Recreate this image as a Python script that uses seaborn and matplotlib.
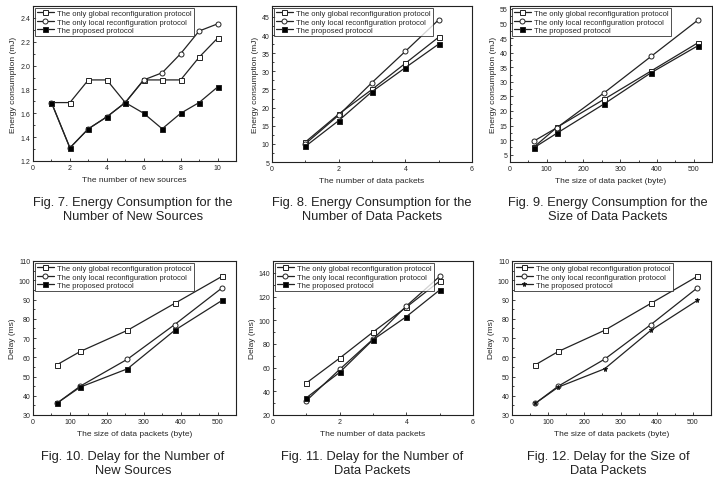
import matplotlib
matplotlib.use("Agg")
import matplotlib.pyplot as plt
from matplotlib.ticker import AutoMinorLocator, MultipleLocator
import seaborn as sns
import pandas as pd

# Fig. 7 - energy vs number of new sources
new_sources = [1, 2, 3, 4, 5, 6, 7, 8, 9, 10]
e7_global = [1.69, 1.69, 1.88, 1.88, 1.69, 1.88, 1.88, 1.88, 2.07, 2.23]
e7_local = [1.69, 1.31, 1.47, 1.57, 1.69, 1.88, 1.94, 2.10, 2.29, 2.35]
e7_proposed = [1.69, 1.31, 1.47, 1.57, 1.69, 1.60, 1.47, 1.60, 1.69, 1.82]

# Fig. 8 - energy vs number of data packets
packets = [1, 2, 3, 4, 5]
e8_global = [10.5, 18.2, 25.0, 32.2, 39.4]
e8_local = [10.0, 17.9, 26.9, 35.5, 44.2]
e8_proposed = [9.3, 16.4, 24.4, 31.0, 37.5]

# Fig. 9 - energy vs packet size
sizes = [64, 128, 256, 384, 512]
e9_global = [7.5, 14.4, 24.0, 33.7, 43.4]
e9_local = [9.6, 14.3, 26.2, 38.7, 51.2]
e9_proposed = [7.3, 12.4, 22.4, 33.1, 42.4]

# Fig. 10 / 12 - delay vs packet size
d10_global = [56, 63, 74, 88, 102]
d10_local = [36, 45, 59, 77, 96]
d10_proposed = [36, 44.5, 54, 74, 89.5]

# Fig. 11 - delay vs number of data packets
d11_global = [47, 68, 90, 111, 133]
d11_local = [32, 58.5, 84, 112, 137]
d11_proposed = [34.5, 56, 83.5, 103, 125.5]

series_names = ["The only global reconfiguration protocol",
                "The only local reconfiguration protocol",
                "The proposed protocol"]

captions = ["Fig. 7. Energy Consumption for the\nNumber of New Sources",
            "Fig. 8. Energy Consumption for the\nNumber of Data Packets",
            "Fig. 9. Energy Consumption for the\nSize of Data Packets",
            "Fig. 10. Delay for the Number of\nNew Sources",
            "Fig. 11. Delay for the Number of\nData Packets",
            "Fig. 12. Delay for the Size of\nData Packets"]

sns.set_style("ticks")
plt.rcParams["font.family"] = ["Liberation Sans", "DejaVu Sans"]

W, H = 713, 481
fig = plt.figure(figsize=(W / 100, H / 100), dpi=100)


def make_ax(left, top, right, bottom):
    return fig.add_axes([left / W, 1 - bottom / H, (right - left) / W, (bottom - top) / H])


panels = [
    dict(box=(33, 7, 236, 162), x=new_sources, ys=(e7_global, e7_local, e7_proposed),
         xlim=(0, 11), ylim=(1.2, 2.5), xmaj=2, ymaj=0.2, yfmt="%.1f",
         xlabel="The number of new sources", ylabel="Energy consumption (mJ)"),
    dict(box=(272, 7, 472, 163), x=packets, ys=(e8_global, e8_local, e8_proposed),
         xlim=(0, 6), ylim=(5, 48), xmaj=2, ymaj=5, yfmt="%d",
         xlabel="The number of data packets", ylabel="Energy consumption (mJ)"),
    dict(box=(510, 7, 712, 163), x=sizes, ys=(e9_global, e9_local, e9_proposed),
         xlim=(0, 550), ylim=(2.5, 56), xmaj=100, ymaj=5, yfmt="%d",
         xlabel="The size of data packet (byte)", ylabel="Energy consumption (mJ)"),
    dict(box=(33, 262, 236, 416), x=sizes, ys=(d10_global, d10_local, d10_proposed),
         xlim=(0, 550), ylim=(30, 110), xmaj=100, ymaj=10, yfmt="%d",
         xlabel="The size of data packets (byte)", ylabel="Delay (ms)"),
    dict(box=(273, 262, 473, 416), x=packets, ys=(d11_global, d11_local, d11_proposed),
         xlim=(0, 6), ylim=(20, 150), xmaj=2, ymaj=20, yfmt="%d",
         xlabel="The number of data packets", ylabel="Delay (ms)"),
    dict(box=(512, 262, 711, 416), x=sizes, ys=(d10_global, d10_local, d10_proposed),
         xlim=(0, 550), ylim=(30, 110), xmaj=100, ymaj=10, yfmt="%d",
         xlabel="The size of data packets (byte)", ylabel="Delay (ms)"),
]

caption_x = [133, 372, 608, 133, 372, 608]

styles = [dict(marker="s", mfc="white"),
          dict(marker="o", mfc="white"),
          dict(marker="s", mfc="black")]

for i, p in enumerate(panels):
    ax = make_ax(*p["box"])
    for name, y, st in zip(series_names, p["ys"], styles):
        marker = st["marker"]
        if i == 5 and name == series_names[2]:
            marker = "*"
        df = pd.DataFrame({"x": p["x"], "y": y})
        sns.lineplot(data=df, x="x", y="y", ax=ax, color="#222222", lw=0.9,
                     marker=marker, markersize=3.6, markerfacecolor=st["mfc"],
                     markeredgecolor="#222222", markeredgewidth=0.7, label=name)
    ax.set_xlim(*p["xlim"])
    ax.set_ylim(*p["ylim"])
    ax.xaxis.set_major_locator(MultipleLocator(p["xmaj"]))
    ax.yaxis.set_major_locator(MultipleLocator(p["ymaj"]))
    ax.yaxis.set_major_formatter(plt.FormatStrFormatter(p["yfmt"]))
    ax.xaxis.set_minor_locator(AutoMinorLocator(2))
    ax.yaxis.set_minor_locator(AutoMinorLocator(2))
    ax.tick_params(which="both", direction="in", labelsize=5, width=0.6, pad=2)
    ax.tick_params(which="major", length=2.5)
    ax.tick_params(which="minor", length=1.5)
    for s in ax.spines.values():
        s.set_linewidth(0.8)
        s.set_color("#222222")
    ax.set_xlabel(p["xlabel"], fontsize=6, labelpad=4)
    ax.set_ylabel(p["ylabel"], fontsize=6, labelpad=2)
    leg = ax.legend(loc="upper left", fontsize=5.5, frameon=True, fancybox=False,
                    borderpad=0.3, labelspacing=0.15, handlelength=2.2,
                    handletextpad=0.4, borderaxespad=0.2)
    leg.get_frame().set_edgecolor("#222222")
    leg.get_frame().set_linewidth(0.7)

    cx = caption_x[i] / W
    cy = 1 - ((210 if i < 3 else 464) / H)
    fig.text(cx, cy, captions[i], ha="center", va="center", fontsize=9.3,
             linespacing=1.3, color="#222222",
             family=["Liberation Sans", "DejaVu Sans"])

fig.savefig("out.png", dpi=100)
